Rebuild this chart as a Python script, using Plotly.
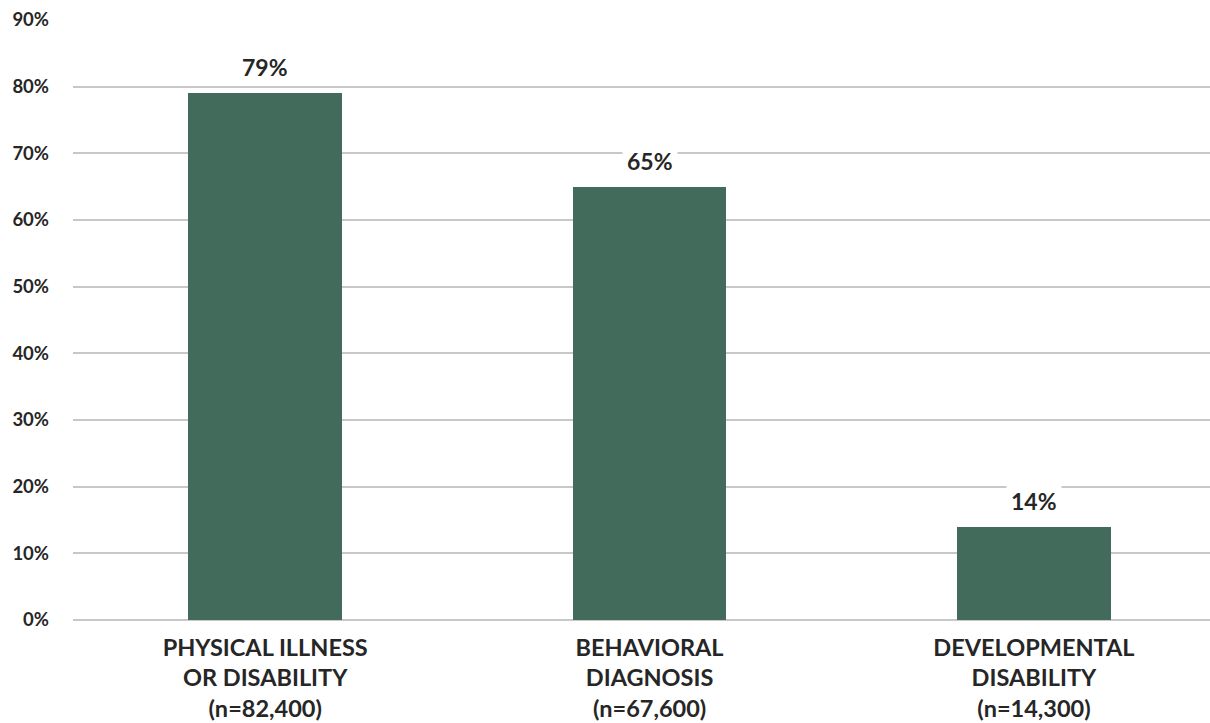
import plotly.graph_objects as go

categories = ["PHYSICAL ILLNESS<br>OR DISABILITY<br>(n=82,400)",
              "BEHAVIORAL<br>DIAGNOSIS<br>(n=67,600)",
              "DEVELOPMENTAL<br>DISABILITY<br>(n=14,300)"]
values = [0.79, 0.65, 0.14]
value_labels = ["79%", "65%", "14%"]
ytick_vals = [0, 0.1, 0.2, 0.3, 0.4, 0.5, 0.6, 0.7, 0.8, 0.9]
ytick_text = ["0%", "10%", "20%", "30%", "40%", "50%", "60%", "70%", "80%", "90%"]

FONT = "Lato"
fig = go.Figure()
fig.add_trace(go.Bar(x=categories, y=values, marker_color="#436b5c", width=0.4,
                     marker_line_width=0))
for c, v, t in zip(categories, values, value_labels):
    fig.add_annotation(x=c, y=v, text="<b>%s</b>" % t, showarrow=False, yanchor="bottom",
                       yshift=7, bgcolor="white", borderpad=4,
                       font=dict(family=FONT, size=23, color="#262626"))
fig.update_layout(
    width=1210, height=723,
    margin=dict(l=73, r=0, t=20, b=103),
    plot_bgcolor="white", paper_bgcolor="white",
    showlegend=False,
    bargap=0,
)
fig.update_xaxes(range=[-0.5, 2.458], showline=False, ticks="", automargin=False,
                 tickfont=dict(family=FONT, size=23.5, color="#262626"),
                 tickprefix="<b>", ticksuffix="</b>", ticklabelstandoff=11)
fig.update_yaxes(range=[0, 0.9], tickvals=ytick_vals, ticktext=["<b>%s</b>" % t for t in ytick_text],
                 showgrid=True, gridcolor="#c8c8c8", gridwidth=1.5, zeroline=True,
                 zerolinecolor="#c8c8c8", zerolinewidth=1.5, automargin=False,
                 tickfont=dict(family=FONT, size=18.5, color="#262626"),
                 ticklabelstandoff=23)
fig.write_html("out.html", config={"displayModeBar": False},
               post_script="document.body.style.margin='0';document.body.style.overflow='hidden';")
